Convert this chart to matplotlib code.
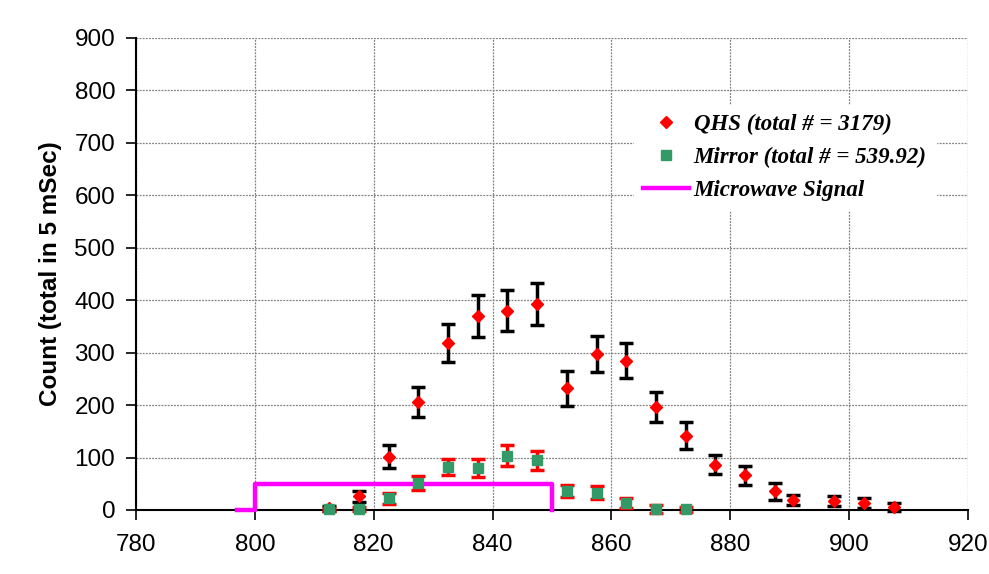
import matplotlib.pyplot as plt
from matplotlib.lines import Line2D

# Data
qhs_x = [812.5, 817.5, 822.5, 827.5, 832.5, 837.5, 842.5, 847.5, 852.5, 857.5,
         862.5, 867.5, 872.5, 877.5, 882.5, 887.5, 890.5, 897.5, 902.5, 907.5]
qhs_y = [3, 26, 102, 206, 319, 370, 380, 392, 232, 297,
         285, 196, 142, 86, 66, 36, 19, 17, 13, 6]
qhs_err = [4, 11, 21, 29, 36, 40, 39, 40, 33, 34,
           34, 29, 25, 18, 18, 16, 9, 9, 9, 8]

mirror_x = [812.5, 817.5, 822.5, 827.5, 832.5, 837.5, 842.5, 847.5, 852.5, 857.5,
            862.5, 867.5, 872.5]
mirror_y = [1, 2, 22, 52, 82, 80, 103, 95, 36, 33, 13, 2, 1]
mirror_err = [2, 3, 10, 13, 16, 17, 20, 18, 11, 12, 9, 7, 4]

microwave_x = [797, 800, 800, 850, 850]
microwave_y = [0, 0, 50, 50, 0]

x_ticks = [780, 800, 820, 840, 860, 880, 900, 920]
y_ticks = [0, 100, 200, 300, 400, 500, 600, 700, 800, 900]

plt.rcParams['font.family'] = ['Liberation Sans', 'DejaVu Sans']

fig = plt.figure(figsize=(9.89, 5.74), dpi=100)
ax = fig.add_axes([136 / 989, 64 / 574, 832 / 989, 472 / 574])

# Microwave signal
ax.plot(microwave_x, microwave_y, color='#ff00ff', linewidth=3.2, zorder=3,
        clip_on=False)

# QHS points
ax.errorbar(qhs_x, qhs_y, yerr=qhs_err, fmt='D', color='#ff0000', markersize=6.5,
            ecolor='black', elinewidth=2.5, capsize=4.8, capthick=2.5,
            zorder=4, clip_on=False)

# Mirror points
ax.errorbar(mirror_x, mirror_y, yerr=mirror_err, fmt='s', color='#339966',
            markersize=6.8, ecolor='#ff0000', elinewidth=2.5, capsize=4.8,
            capthick=2.5, zorder=5, clip_on=False)

ax.set_xlim(780, 920)
ax.set_ylim(0, 900)
ax.set_xticks(x_ticks)
ax.set_yticks(y_ticks)
ax.tick_params(labelsize=17.5, length=7, width=1.2, direction='out')
ax.tick_params(axis='x', pad=10)
ax.tick_params(axis='y', pad=8)

ax.grid(True, color='#808080', linestyle=(0, (1.5, 1)), linewidth=0.9)
ax.set_axisbelow(True)

for side in ['top', 'right']:
    ax.spines[side].set_visible(False)
for side in ['left', 'bottom']:
    ax.spines[side].set_linewidth(1.5)
    ax.spines[side].set_zorder(2.5)

ax.set_ylabel('Count (total in 5 mSec)', fontsize=17.5, fontweight='bold', labelpad=9)

# Legend
handles = [
    Line2D([], [], marker='D', color='#ff0000', linestyle='none', markersize=6.5),
    Line2D([], [], marker='s', color='#339966', linestyle='none', markersize=6.8),
    Line2D([], [], color='#ff00ff', linewidth=3.2),
]
labels = ['QHS (total # = 3179)', 'Mirror (total # = 539.92)', 'Microwave Signal']
leg = ax.legend(handles, labels, loc='center', bbox_to_anchor=(0.78, 0.747),
                frameon=True, framealpha=1, edgecolor='white', fancybox=False,
                handlelength=2.0, handletextpad=0.2, labelspacing=0.52,
                prop={'family': 'Liberation Serif', 'weight': 'bold',
                      'style': 'italic', 'size': 16.5})

plt.savefig('out.png', dpi=100)
